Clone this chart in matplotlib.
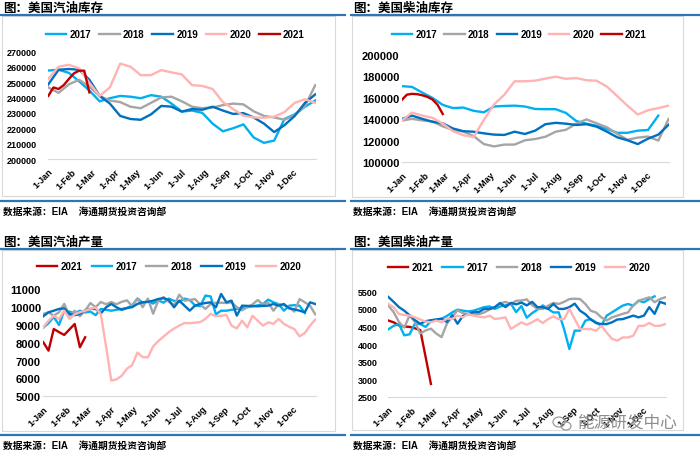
import numpy as np
import matplotlib
matplotlib.use("Agg")
import matplotlib.pyplot as plt
from matplotlib.patches import Rectangle, Ellipse

plt.rcParams['font.family'] = ['Liberation Sans', 'Noto Sans CJK SC', 'DejaVu Sans']

nan = np.nan
W, H = 700, 456

month_days = [0, 31, 59, 90, 120, 151, 181, 212, 243, 273, 304, 334]
month_labels = ['1-Jan', '1-Feb', '1-Mar', '1-Apr', '1-May', '1-Jun',
                '1-Jul', '1-Aug', '1-Sep', '1-Oct', '1-Nov', '1-Dec']

stock_days = np.arange(0, 365, 14)
week_days = np.arange(0, 365, 7)
days_2021 = np.arange(0, 57, 7)

# US gasoline stocks, thousand barrels
gas_stock_2017 = [257.5, 258, 256, 250.5, 244.5, 237.5, 239.5, 241, 240.5, 239.5, 241.5, 240.5, 236,
                  230.8, 231.5, 230, 223, 218, 220, 222.5, 214, 210.5, 212, 226, 229, 234, 238]
gas_stock_2018 = [246.5, 243, 248.5, 251.5, 247, 241, 238, 237, 234, 233, 236.5, 240, 240.5,
                  237.5, 234, 233, 233.5, 235, 236, 235.5, 231, 228, 227, 225.5, 228.5, 234.5, 248]
gas_stock_2019 = [248.5, 258, 258.5, 258, 251.5, 241, 236, 228, 226, 225.5, 229, 234.5, 234,
                  230.8, 232.5, 232, 234, 231.5, 229.3, 229.8, 227, 223, 217.5, 222, 228, 236.5, 242]
gas_stock_2020 = [252, 260, 261.2, 259, 249.5, 241, 246.6, 262, 260, 254.5, 254.5, 257.8, 256.3,
                  255, 248, 247.5, 245.5, 237, 232.5, 228.1, 227, 226.8, 227.5, 230.5, 236.5, 238.8, 236.5]
gas_stock_2021 = [241, 246.5, 245.5, 248, 252, 255.7, 257.4, 257.4, 243.3]

# US distillate stocks, thousand barrels
dist_stock_2017 = [171, 170.3, 165, 160, 153.5, 150.5, 151, 148, 146.6, 152, 152.5, 152.8, 152,
                   149.7, 149.5, 149.5, 146, 138.5, 136, 134, 131, 127.5, 127.5, 129.5, 130.1, 143.5, nan]
dist_stock_2018 = [138.8, 140.5, 139, 138, 133.5, 130.2, 128.7, 124.5, 117, 114.8, 116.5, 116.5, 120.5,
                   121.7, 123.8, 128.5, 130.3, 136, 140, 136.3, 132.6, 126.5, 121, 123, 124, 120.2, 140.4]
dist_stock_2019 = [140.4, 143.5, 140.5, 137.8, 136.3, 131.5, 129, 128.5, 127, 125.8, 125.5, 128.5, 126.4,
                   129.5, 135.5, 136.8, 136, 134.8, 135.5, 133.2, 128.5, 123.3, 120.5, 117, 122, 125.8, 135]
dist_stock_2020 = [138.8, 146.3, 143.5, 141.4, 136, 129, 125.3, 123.5, 139.5, 154, 163, 175.5, 175.5,
                   176.1, 178, 179.8, 177.8, 178.5, 176.5, 176, 170.5, 161.7, 152.7, 144.5, 148.5, 150.5, 152.8]
dist_stock_2021 = [158, 163, 163.8, 163.5, 162.5, 161, 158.5, 153.5, 145]

# US gasoline output, thousand barrels per day
gas_out_2017 = [8850, 9100, 9450, 9000, 9800, 9750, 9650, 9800, 9700, 9750, 9550, 9900, 9850, 9800,
                9850, 9900, 9950, 10100, 10480, 10250, 10300, 10200, 10380, 10250, 10480, 10350, 10300,
                10480, 10400, 10100, 10050, 10650, 10600, 9600, 9800, 9800, 9850, 9900, 9950, 9990,
                10050, 10100, 10170, 10420, 10270, 10170, 9800, 10080, 10110, 10080, 9670, nan, nan]
gas_out_2018 = [9620, 9710, 9520, 9710, 10180, 9520, 9800, 9490, 9800, 10230, 10000, 10290, 10160,
                10290, 10160, 10300, 10380, 10050, 10480, 10000, 10480, 9630, 10380, 10570, 10300, 10100,
                10700, 10360, 10400, 10450, 10150, 9900, 10170, 10250, 10250, 10230, 10270, 10000, 9820,
                10000, 10150, 10400, 10150, 10250, 9800, 10170, 10100, 10000, 9750, 10450, 10270, 10084, 9600]
gas_out_2019 = [9490, 9710, 9800, 9900, 9930, 9620, 9550, 9620, 9820, 9900, 9900, 9650, 9990, 10180,
                9990, 9850, 9950, 10000, 10180, 10270, 10300, 10360, 10460, 10500, 10400, 9990, 10364,
                10080, 9803, 10084, 10177, 10230, 10270, 9990, 10738, 10270, 10364, 9523, 10084, 10070,
                10060, 10046, 10070, 10084, 10177, 10084, 10177, 9934, 9870, 9803, 9710, 10270, 10177]
gas_out_2020 = [8870, 9240, 9520, 9330, 9800, 9340, 9600, 9710, 9800, 9900, 9980, 9600, 7800, 5880,
                5950, 6150, 6550, 6750, 7450, 7200, 7180, 7800, 8100, 8350, 8600, 8800, 8960, 9110, 9100,
                9130, 9160, 9340, 9620, 9490, 9520, 9560, 8960, 8810, 9240, 8870, 9520, 9240, 8960, 9150,
                9060, 9340, 9060, 8900, 8770, 8360, 8550, 8960, 9300]
gas_out_2021 = [8030, 7560, 8775, 8600, 8440, 8750, 9055, 7750, 8310]

# US distillate output, thousand barrels per day
dist_out_2017 = [4420, 4520, 4570, 4250, 4280, 4580, 4570, 4490, 4650, 4700, 4720, 4800, 4900, 4980,
                 4950, 4930, 4950, 5000, 5050, 5070, 5000, 5070, 5100, 5150, 4910, 5080, 4750, 4880,
                 4980, 5100, 5000, 4900, 4903, 4430, 3862, 4383, 4383, 4667, 4714, 4620, 4525, 4809,
                 4903, 4998, 5093, 5140, 5093, 5235, 5187, 5282, 5358, nan, nan]
dist_out_2018 = [5100, 4910, 4630, 4470, 4820, 4630, 4300, 4390, 4440, 4300, 4200, 4580, 4770, 4960,
                 4880, 4850, 4850, 4850, 4900, 4980, 5050, 5150, 5200, 5140, 5230, 5240, 5270, 5110,
                 5000, 5000, 5090, 5170, 5140, 5200, 5280, 5290, 5280, 5140, 4950, 4900, 4760, 4670,
                 4760, 4810, 4860, 4900, 5100, 5230, 5280, 5330, 5190, 5280, 5330]
dist_out_2019 = [5340, 5200, 5050, 4950, 4820, 4680, 4580, 4650, 4680, 4700, 4720, 4630, 4820, 4580,
                 4800, 4850, 4910, 4910, 5000, 5000, 5050, 5170, 5050, 5170, 5130, 5180, 5100, 5200,
                 5050, 5050, 5000, 5140, 5000, 5000, 5050, 5150, 4950, 4850, 4700, 4600, 4570, 4570,
                 4620, 4700, 4710, 4760, 4810, 4760, 4810, 5050, 4860, 5200, 5150]
dist_out_2020 = [5140, 5045, 4856, 4828, 4810, 4760, 4700, 4640, 4620, 4667, 4620, 4733, 4714, 4809,
                 4760, 4856, 4809, 4780, 4760, 4809, 4714, 4733, 4760, 4430, 4525, 4620, 4550, 4620,
                 4710, 4600, 4710, 4790, 4710, 4710, 5000, 4710, 4430, 4430, 4430, 4380, 4520, 4330,
                 4150, 4100, 4190, 4190, 4240, 4520, 4520, 4600, 4520, 4520, 4570]
dist_out_2021 = [4670, 4620, 4530, 4500, 4490, 4450, 4400, 3640, 2870]

colors = {'2017': '#00B0F0', '2018': '#A5A5A5', '2019': '#0070C0',
          '2020': '#FFB3B3', '2021': '#C00000'}
BLUE = '#2E75B6'
SOURCE = '数据来源：EIA    海通期货投资咨询部'

fig = plt.figure(figsize=(7, 4.56), dpi=100)
bg = fig.add_axes([0, 0, 1, 1])
bg.set_xlim(0, W)
bg.set_ylim(H, 0)
bg.axis('off')


def px_axes(x0, x1, y_top, y_bot):
    return fig.add_axes([x0 / W, 1 - y_bot / H, (x1 - x0) / W, (y_bot - y_top) / H])


def frame(x0, x1, box_right, y_title, y_rule, box_bottom, y_rule2, title):
    bg.text(x0 + 3, y_title, title, fontsize=9, fontweight='bold', ha='left', va='center')
    bg.plot([x0, x1], [y_rule, y_rule], color=BLUE, lw=1.6, solid_capstyle='butt')
    bg.add_patch(Rectangle((x0 + 2, y_rule + 1), box_right - x0 - 2, box_bottom - y_rule - 1,
                           fill=False, ec='#D9D9D9', lw=0.8))
    bg.plot([x0, x1], [y_rule2, y_rule2], color=BLUE, lw=1.6, solid_capstyle='butt')
    bg.text(x0 + 3, y_rule2 + 10, SOURCE, fontsize=7, fontweight='bold', ha='left', va='center')


def panel(box, series, ylim, yticks, ypad, ysize, leg_xy, colsp):
    ax = px_axes(*box)
    ax.set_facecolor('none')
    for name, d, v in series:
        ax.plot(d, v, color=colors[name], lw=1.7, label=name, solid_joinstyle='round')
    ax.set_xlim(0, 365)
    ax.set_ylim(*ylim)
    ax.set_yticks(yticks)
    ax.set_yticklabels([str(t) for t in yticks], fontsize=ysize, fontweight='bold')
    ax.set_xticks(month_days)
    ax.set_xticklabels(month_labels, rotation=45, ha='right', va='top',
                       rotation_mode='anchor', fontsize=6.5, fontweight='bold')
    ax.tick_params(axis='y', length=0, pad=ypad)
    ax.tick_params(axis='x', length=0, pad=5.5)
    for s in ['top', 'right', 'left']:
        ax.spines[s].set_visible(False)
    ax.spines['bottom'].set_color('#D9D9D9')
    ax.spines['bottom'].set_linewidth(0.8)
    ax.legend(loc='center left', bbox_to_anchor=(leg_xy[0] / W, 1 - leg_xy[1] / H),
              bbox_transform=fig.transFigure, ncol=5, frameon=False, borderpad=0,
              borderaxespad=0, handlelength=2.1, handletextpad=0.35, columnspacing=colsp,
              prop={'weight': 'bold', 'size': 7})
    return ax


# frames
frame(0, 346, 335, 9, 16, 197, 201.5, '图：美国汽油库存')
frame(350, 700, 683, 9, 16, 198, 201.5, '图：美国柴油库存')
frame(0, 346, 335, 243, 249.5, 432, 436, '图：美国汽油产量')
frame(350, 700, 683, 243, 249.5, 431, 436, '图：美国柴油产量')

panel((48.3, 316, 52.3, 160),
      [('2017', stock_days, np.array(gas_stock_2017) * 1000),
       ('2018', stock_days, np.array(gas_stock_2018) * 1000),
       ('2019', stock_days, np.array(gas_stock_2019) * 1000),
       ('2020', stock_days, np.array(gas_stock_2020) * 1000),
       ('2021', days_2021, np.array(gas_stock_2021) * 1000)],
      (200000, 270000), list(range(200000, 270001, 10000)), 8.3, 6.5, (46, 35), 0.8)

panel((401.7, 669.3, 56, 163.3),
      [('2017', stock_days, np.array(dist_stock_2017) * 1000),
       ('2018', stock_days, np.array(dist_stock_2018) * 1000),
       ('2019', stock_days, np.array(dist_stock_2019) * 1000),
       ('2020', stock_days, np.array(dist_stock_2020) * 1000),
       ('2021', days_2021, np.array(dist_stock_2021) * 1000)],
      (100000, 200000), list(range(100000, 200001, 20000)), 1.7, 8, (392, 35), 0.7)

panel((43.3, 316, 290.3, 397.3),
      [('2021', days_2021, gas_out_2021),
       ('2017', week_days, gas_out_2017),
       ('2018', week_days, gas_out_2018),
       ('2019', week_days, gas_out_2019),
       ('2020', week_days, gas_out_2020)],
      (5000, 11000), list(range(5000, 11001, 1000)), 1.7, 8, (37, 267), 0.95)

panel((388.3, 666, 292.3, 398),
      [('2021', days_2021, dist_out_2021),
       ('2017', week_days, dist_out_2017),
       ('2018', week_days, dist_out_2018),
       ('2019', week_days, dist_out_2019),
       ('2020', week_days, dist_out_2020)],
      (2500, 5500), list(range(2500, 5501, 500)), 7.4, 6.5, (388, 268.5), 0.9)

# watermark
wm = fig.add_axes([0, 0, 1, 1])
wm.set_xlim(0, W)
wm.set_ylim(H, 0)
wm.axis('off')
wm.add_patch(Ellipse((559, 423), 12, 10, fill=False, ec='#9A9A9A', lw=0.9))
wm.add_patch(Ellipse((566, 427), 10, 8, fill=False, ec='#9A9A9A', lw=0.9))
wm.text(577, 423, '能源研发中心', fontsize=12, color='#8C8C8C', ha='left', va='center')

fig.savefig('out.png', dpi=100)
